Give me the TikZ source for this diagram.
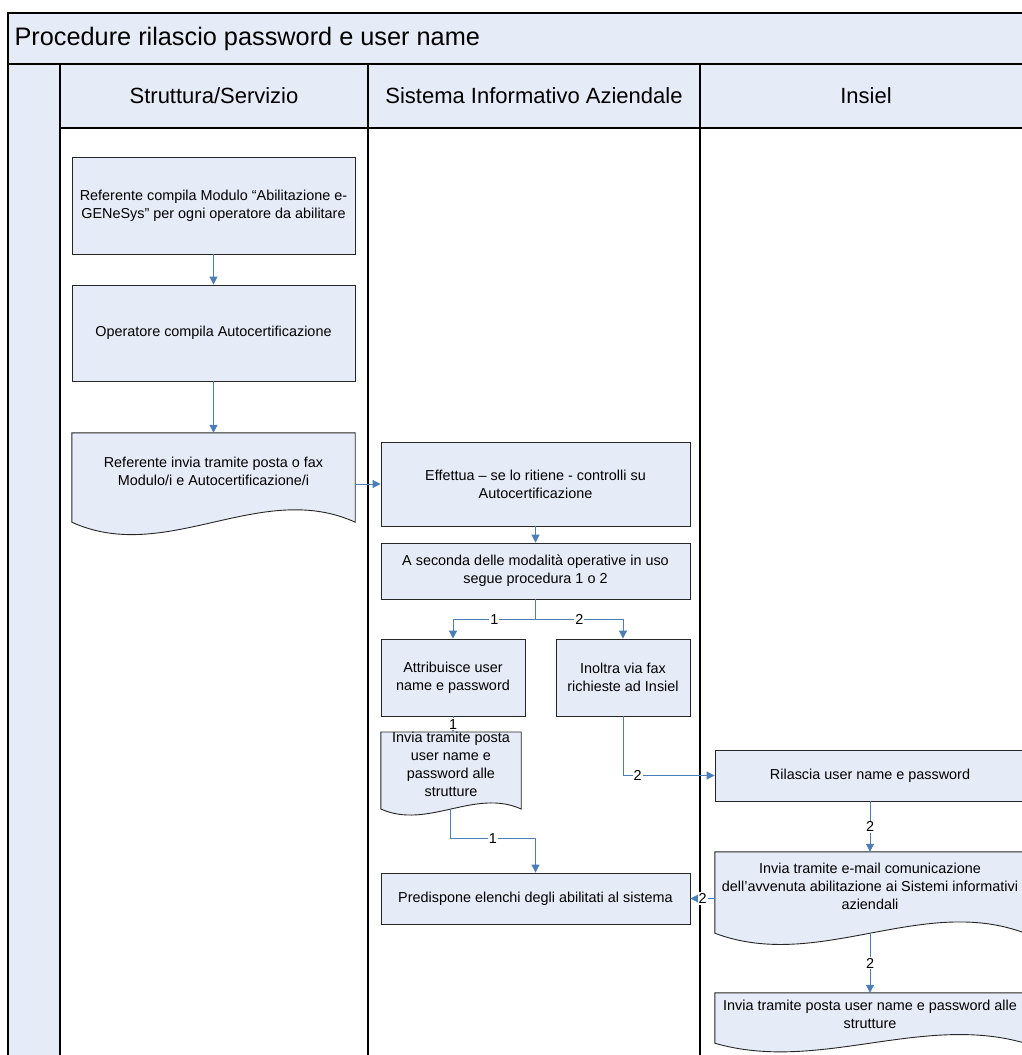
\documentclass[tikz,border=0pt]{standalone}
\usepackage{fontspec}
\setmainfont{Liberation Sans}
\usetikzlibrary{calc,positioning,arrows.meta,backgrounds}
\definecolor{lanefill}{HTML}{E6ECF7}
\definecolor{flowblue}{HTML}{4A7EBB}
\tikzset{
	lanebox/.style={draw=black, line width=1.2pt},
	lanehead/.style={font=\fontsize{22}{22}\selectfont},
	procbox/.style={draw=black!85, fill=lanefill, line width=0.9pt, inner sep=0pt, align=center, font=\fontsize{14.4}{18}\selectfont},
	doctext/.style={inner sep=0pt, align=center, font=\fontsize{14.4}{18}\selectfont},
	docline/.style={draw=black!85, fill=lanefill, line width=0.9pt},
	flow/.style={draw=flowblue, line width=1pt, -{Triangle[width=8pt,length=8pt]}},
	flowlabel/.style={fill=white, inner sep=1pt, font=\fontsize{14.4}{14.4}\selectfont}
}
\newcommand{\docwave}[3]{%
	\draw[docline] (#1.north west) -- ($(#1.south west)+(0,#2)$)
		.. controls ($(#1.south west)!0.333!(#1.south east)+(0,#2+#3)$) and ($(#1.south west)!0.667!(#1.south east)+(0,#2-#3)$)
		.. ($(#1.south east)+(0,#2)$) -- (#1.north east) -- cycle;}
\begin{document}
\begin{tikzpicture}[x=1pt,y=-1pt]
		\useasboundingbox (0,0) rectangle (1021,1055);
		\begin{scope}[on background layer]
			\fill[white] (0,0) rectangle (1021,1055);
		\end{scope}
		\fill[lanefill] (8,13) rectangle (1032,128);
		\fill[lanefill] (8,128) rectangle (60,1060);
		\draw[lanebox] (8,13) rectangle (1032,1060);
		\draw[lanebox] (8,64) -- (1032,64) (60,128) -- (1032,128);
		\draw[lanebox] (60,64) -- (60,1060) (368,64) -- (368,1060) (700,64) -- (700,1060);

		\node[anchor=west, font=\fontsize{25.3}{25.3}\selectfont] (title) at (11,39) {Procedure rilascio password e user name};
		\node[lanehead] (struttura) at (214,96) {Struttura/Servizio};
		\node[lanehead] (sistema) at (534,96) {Sistema Informativo Aziendale};
		\node[lanehead] (insiel) at (866,96) {Insiel};

		\node[procbox, minimum width=283, minimum height=97] (compila) at (213.5,205.5) {Referente compila Modulo “Abilitazione e-\\GENeSys” per ogni operatore da abilitare};
		\node[procbox, minimum width=283, minimum height=96] (autocert) at (213.5,333) {Operatore compila Autocertificazione};
		\node[doctext, minimum width=283, minimum height=77] (invio) at (213.5,471.5) {Referente invia tramite posta o fax\\Modulo/i e Autocertificazione/i};
		\node[procbox, minimum width=309, minimum height=84] (controlli) at (535.5,484) {Effettua – se lo ritiene - controlli su\\Autocertificazione};
		\node[procbox, minimum width=309, minimum height=56] (modalita) at (535.5,571) {A seconda delle modalità operative in uso\\segue procedura 1 o 2};
		\node[procbox, minimum width=144, minimum height=77] (attribuisce) at (453,677.5) {Attribuisce user\\name e password};
		\node[procbox, minimum width=134, minimum height=77] (inoltra) at (623,677.5) {Inoltra via fax\\richieste ad Insiel};
		\node[doctext, minimum width=140, minimum height=63] (invposta) at (451,764.5) {Invia tramite posta\\user name e\\password alle\\strutture};
		\node[procbox, minimum width=309, minimum height=51] (elenchi) at (535.5,898.5) {Predispone elenchi degli abilitati al sistema};
		\node[procbox, minimum width=310, minimum height=51] (rilascia) at (870,775.5) {Rilascia user name e password};
		\node[doctext, minimum width=310, minimum height=68] (email) at (870,886) {Invia tramite e-mail comunicazione\\dell’avvenuta abilitazione ai Sistemi informativi\\aziendali};
		\node[doctext, minimum width=310, minimum height=42] (postastrut) at (870,1014) {Invia tramite posta user name e password alle\\strutture};

		\begin{scope}[on background layer]
			\docwave{invio}{12}{43}
			\docwave{invposta}{12}{21}
			\docwave{email}{13}{39}
			\docwave{postastrut}{8}{30}
		\end{scope}

		\draw[flow] (compila) -- (autocert);
		\draw[flow] (autocert) -- (invio);
		\draw[flow] (invio.east |- controlli.west) -- (controlli.west);
		\draw[flow] (controlli) -- (modalita);
		\draw[flow] (modalita.south) -- ++(0,20) -| node[flowlabel, pos=0.25] {1} (attribuisce.north);
		\draw[flow] (modalita.south) -- ++(0,20) -| node[flowlabel, pos=0.25] {2} (inoltra.north);
		\draw[flow] (attribuisce.south) -- node[flowlabel] {1} (attribuisce.south |- invposta.north);
		\draw[flow] ($(invposta.south)+(-1,12)$) -- ++(0,30) -| node[flowlabel, pos=0.25] {1} (elenchi.north);
		\draw[flow] (inoltra.south) |- node[flowlabel, pos=0.58] {2} (rilascia.west);
		\draw[flow] (rilascia) -- node[flowlabel] {2} (email);
		\draw[flow] (email.west |- elenchi.east) -- node[flowlabel] {2} (elenchi.east);
		\draw[flow] ($(email.south)+(0,13)$) -- node[flowlabel] {2} (postastrut.north);
	\end{tikzpicture}
\end{document}
